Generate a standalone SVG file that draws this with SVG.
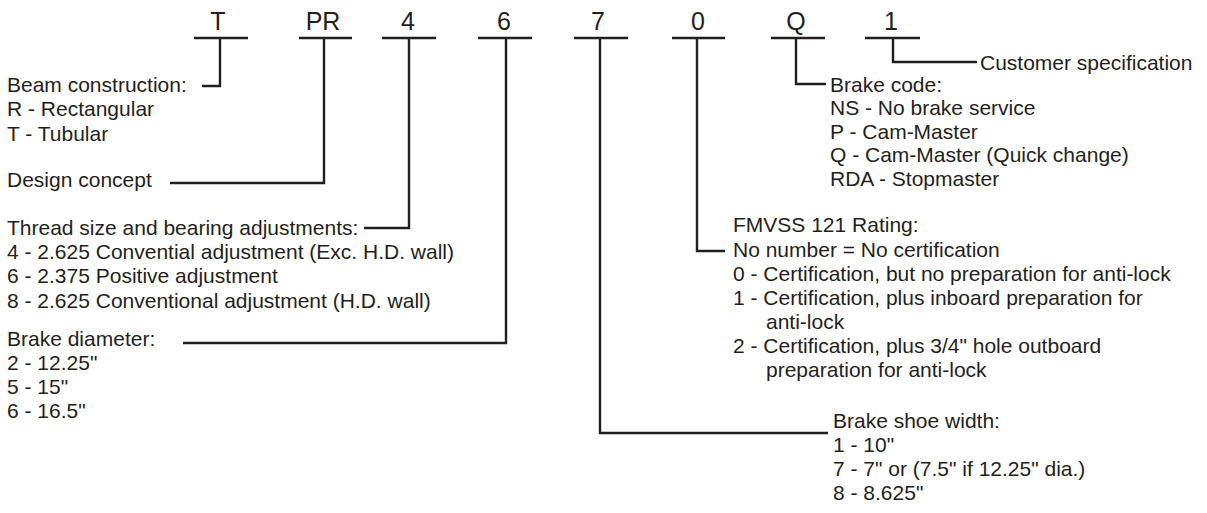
<svg xmlns="http://www.w3.org/2000/svg" width="1207" height="513" viewBox="0 0 1207 513">
<style>
text{font-family:"Liberation Sans",Arial,sans-serif;fill:#231f20}
.code{font-size:25px;text-anchor:middle}
.t{font-size:21px}
.bar{stroke:#231f20;stroke-width:2.4;fill:none}
.conn path{stroke:#231f20;stroke-width:2.4;fill:none;stroke-linejoin:miter}
</style>
<rect width="1207" height="513" fill="#ffffff"/>
<g id="code-T"><text class="code" x="218" y="29.5">T</text><line class="bar" x1="194" y1="38" x2="248" y2="38"/></g>
<g id="code-PR"><text class="code" x="323" y="29.5">PR</text><line class="bar" x1="299" y1="38" x2="352" y2="38"/></g>
<g id="code-4"><text class="code" x="408" y="29.5">4</text><line class="bar" x1="382" y1="38" x2="436" y2="38"/></g>
<g id="code-6"><text class="code" x="504" y="29.5">6</text><line class="bar" x1="478" y1="38" x2="532" y2="38"/></g>
<g id="code-7"><text class="code" x="598" y="29.5">7</text><line class="bar" x1="574" y1="38" x2="628" y2="38"/></g>
<g id="code-0"><text class="code" x="698" y="29.5">0</text><line class="bar" x1="672" y1="38" x2="725" y2="38"/></g>
<g id="code-Q"><text class="code" x="796" y="29.5">Q</text><line class="bar" x1="771" y1="38" x2="825" y2="38"/></g>
<g id="code-1"><text class="code" x="891" y="29.5">1</text><line class="bar" x1="865" y1="38" x2="920" y2="38"/></g>
<g class="conn" id="connectors">
<path d="M220,38 V86 H202"/>
<path d="M324,38 V183 H170"/>
<path d="M409,38 V228 H364"/>
<path d="M506,38 V343 H183"/>
<path d="M600,38 V433 H828"/>
<path d="M697,38 V251 H725"/>
<path d="M796,38 V84 H826"/>
<path d="M893,38 V62 H977"/>
</g>
<g id="beam"><text class="t" x="7" y="91.5">Beam construction:</text><text class="t" x="7" y="116">R - Rectangular</text><text class="t" x="7" y="140.5">T - Tubular</text></g>
<g id="design"><text class="t" x="7" y="187">Design concept</text></g>
<g id="thread"><text class="t" x="7" y="234.5">Thread size and bearing adjustments:</text><text class="t" x="7" y="258.5">4 - 2.625 Convential adjustment (Exc. H.D. wall)</text><text class="t" x="7" y="283">6 - 2.375 Positive adjustment</text><text class="t" x="7" y="307.5">8 - 2.625 Conventional adjustment (H.D. wall)</text></g>
<g id="diameter"><text class="t" x="7" y="346">Brake diameter:</text><text class="t" x="7" y="369.5">2 - 12.25"</text><text class="t" x="7" y="393.5">5 - 15"</text><text class="t" x="7" y="417.5">6 - 16.5"</text></g>
<g id="customer"><text class="t" x="980" y="70">Customer specification</text></g>
<g id="brakecode"><text class="t" x="830" y="91.5">Brake code:</text><text class="t" x="830" y="115">NS - No brake service</text><text class="t" x="830" y="138.5">P - Cam-Master</text><text class="t" x="830" y="162">Q - Cam-Master (Quick change)</text><text class="t" x="830" y="185.5">RDA - Stopmaster</text></g>
<g id="fmvss"><text class="t" x="733" y="232">FMVSS 121 Rating:</text><text class="t" x="733" y="256.5">No number = No certification</text><text class="t" x="733" y="280.5">0 - Certification, but no preparation for anti-lock</text><text class="t" x="733" y="304.5">1 - Certification, plus inboard preparation for</text><text class="t" x="766" y="328.5">anti-lock</text><text class="t" x="733" y="352.5">2 - Certification, plus 3/4" hole outboard</text><text class="t" x="766" y="376.5">preparation for anti-lock</text></g>
<g id="shoe"><text class="t" x="833" y="428">Brake shoe width:</text><text class="t" x="833" y="452">1 - 10"</text><text class="t" x="833" y="476">7 - 7" or (7.5" if 12.25" dia.)</text><text class="t" x="833" y="500">8 - 8.625"</text></g>
</svg>
